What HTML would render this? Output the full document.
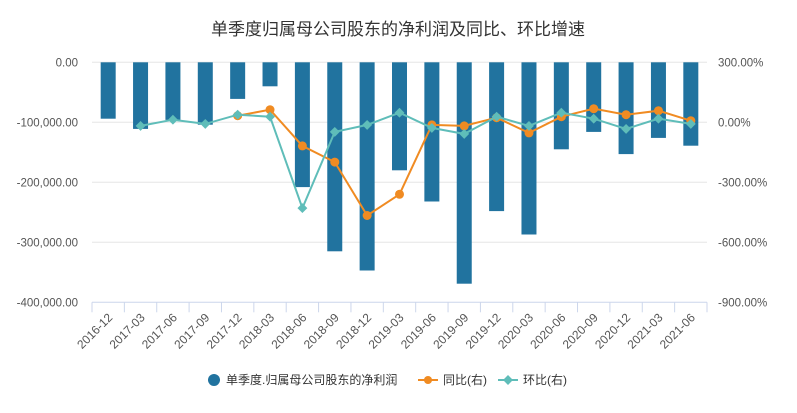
<!DOCTYPE html>
<html><head><meta charset="utf-8"><style>
body{margin:0;background:#fff;font-family:"Liberation Sans","Noto Sans CJK SC",sans-serif}
svg text{font-family:"Liberation Sans","Noto Sans CJK SC",sans-serif}
</style></head><body>
<svg id="c" width="797" height="408">
<text x="398" y="35" text-anchor="middle" font-size="17" fill="#333">单季度归属母公司股东的净利润及同比、环比增速</text>
<g id="grid"></g><g id="bars"></g><g id="lines"></g><g id="axes"></g>
<g>
<circle cx="214" cy="380" r="6" fill="#21739f"/>
<text x="226" y="384" font-size="12" fill="#333">单季度.归属母公司股东的净利润</text>
<line x1="418" y1="380" x2="438" y2="380" stroke="#f08b22" stroke-width="2"/><circle cx="428" cy="380" r="4" fill="#f08b22"/>
<text x="443" y="384" font-size="12" fill="#333">同比(右)</text>
<line x1="498" y1="380" x2="518" y2="380" stroke="#5fbdb9" stroke-width="2"/><rect x="504.5" y="376.5" width="7" height="7" fill="#5fbdb9" transform="rotate(45 508 380)"/>
<text x="523" y="384" font-size="12" fill="#333">环比(右)</text>
</g>
</svg>
<script>
const categories=["2016-12","2017-03","2017-06","2017-09","2017-12","2018-03","2018-06","2018-09","2018-12","2019-03","2019-06","2019-09","2019-12","2020-03","2020-06","2020-09","2020-12","2021-03","2021-06"];
const profit=[-94000,-111000,-96000,-104000,-61000,-40000,-208000,-315000,-347000,-180000,-232000,-369000,-248000,-287000,-145000,-116000,-153000,-126000,-139000];
const yoy=[null,null,null,null,33,63,-118,-199,-466,-360,-13,-18,23,-53,28,68,38,58,8];
const qoq=[null,-18,13,-8,38,28,-429,-48,-13,48,-28,-58,28,-18,48,18,-33,18,-8];
const leftTicks=[0,-100000,-200000,-300000,-400000];
const leftLabels=["0.00","-100,000.00","-200,000.00","-300,000.00","-400,000.00"];
const rightTicks=[300,0,-300,-600,-900];
const rightLabels=["300.00%","0.00%","-300.00%","-600.00%","-900.00%"];
const NS="http://www.w3.org/2000/svg";
const X0=92,X1=707,Y0=62.3,Y1=302.3;
const step=(X1-X0)/categories.length;
const xc=i=>X0+step*(i+0.5);
const yL=v=>Y0+(0-v)/400000*(Y1-Y0);
const yR=v=>Y0+(300-v)/1200*(Y1-Y0);
function mk(t,a,p){const e=document.createElementNS(NS,t);for(const k in a)e.setAttribute(k,a[k]);p.appendChild(e);return e;}
const G=document.getElementById('grid'),B=document.getElementById('bars'),L=document.getElementById('lines'),A=document.getElementById('axes');
leftTicks.forEach((v,i)=>{
 const y=yL(v);
 const g=mk('line',{x1:X0,x2:X1,y1:y,y2:y,stroke:i==4?'#ccd6eb':'#e6e6e6','stroke-width':1},G);
 
 
 const t=mk('text',{x:78,y:y+4,'text-anchor':'end','font-size':11.5,fill:'#555'},A);t.textContent=leftLabels[i];
 
 
});
rightTicks.forEach((v,i)=>{
 const t=mk('text',{x:718,y:yR(v)+4,'font-size':11.5,fill:'#555'},A);t.textContent=rightLabels[i];
 
 
});
for(let i=0;i<=categories.length;i++){
 const x=X0+step*i;
 const tk=mk('line',{x1:x,x2:x,y1:Y1,y2:Y1+10,stroke:'#ccd6eb'},A);
 
 
}
categories.forEach((c,i)=>{
 const x=xc(i);
 const t=mk('text',{x:x+5,y:Y1+16,'text-anchor':'end','font-size':12,fill:'#555',transform:`rotate(-45 ${x+5} ${Y1+16})`},A);t.textContent=c;
 
 
 const r=mk('rect',{x:x-7.5,y:yL(0),width:15,height:yL(profit[i])-yL(0),fill:'#21739f'},B);
 
 
});
function line(vals,col,name,diamond){
 const pts=[];vals.forEach((v,i)=>{if(v!==null)pts.push([xc(i),yR(v)]);});
 const p=mk('polyline',{points:pts.map(q=>q.join(',')).join(' '),fill:'none',stroke:col,'stroke-width':2},L);
 
 
 pts.forEach(q=>{
  let m;
  if(diamond)m=mk('rect',{x:q[0]-3.5,y:q[1]-3.5,width:7,height:7,fill:col,transform:`rotate(45 ${q[0]} ${q[1]})`},L);
  else m=mk('circle',{cx:q[0],cy:q[1],r:4.5,fill:col},L);
  
  
 });
}
line(yoy,'#f08b22','yoy',false);
line(qoq,'#5fbdb9','qoq',true);
</script>
</body></html>
